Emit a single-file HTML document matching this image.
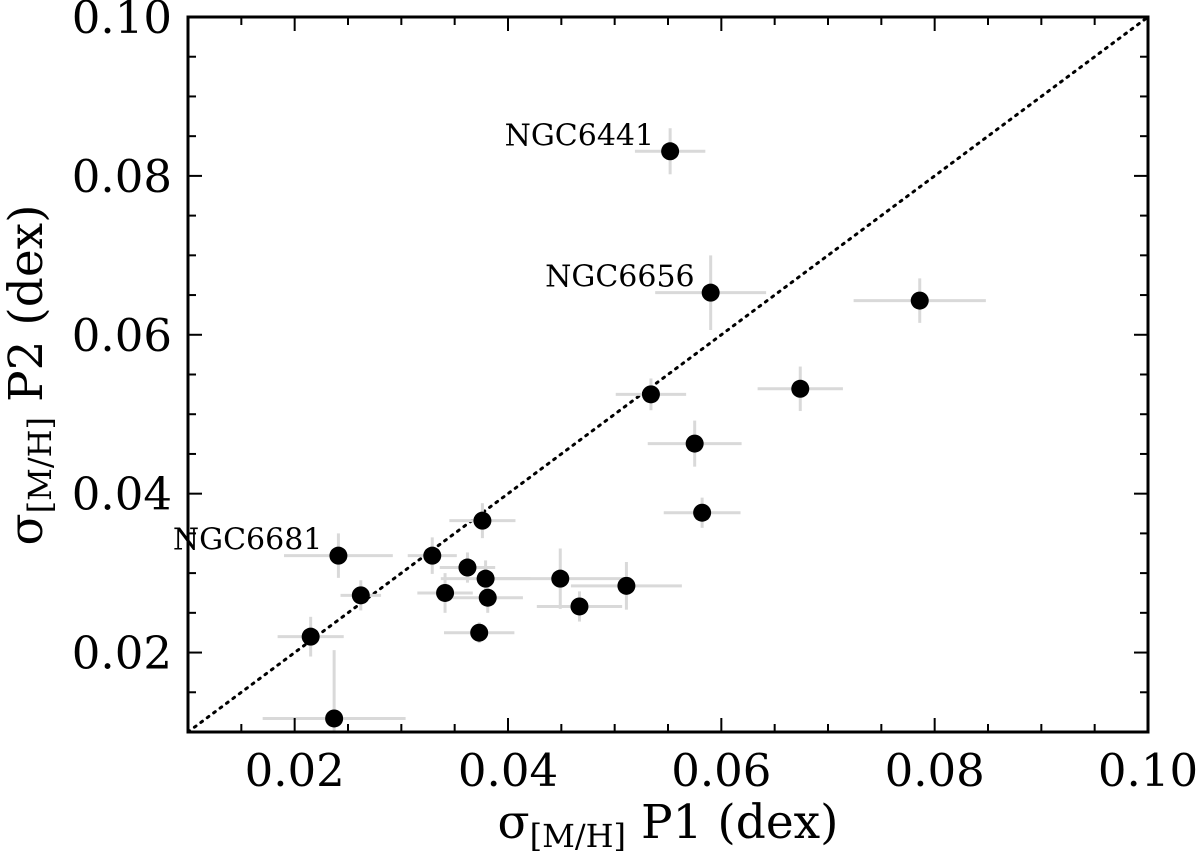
<!DOCTYPE html>
<html><head><meta charset="utf-8">
<style>
html,body{margin:0;padding:0;background:#fff;width:1200px;height:859px;overflow:hidden}
svg text{font-family:"DejaVu Serif","Liberation Serif",serif;fill:#000}
</style></head>
<body>
<svg id="chart" width="1200" height="859" xmlns="http://www.w3.org/2000/svg"></svg>
<script>
const names = ["NGC6441","NGC6656","","","","","","","NGC6681","","","","","","","","","","","",""];
const xVals = [0.0552,0.0590,0.0786,0.0534,0.0674,0.0575,0.0582,0.0376,0.0241,0.0329,0.0362,0.0379,0.0449,0.0511,0.0341,0.0381,0.0262,0.0467,0.0373,0.0215,0.0237];
const yVals = [0.0831,0.0653,0.0643,0.0525,0.0532,0.0463,0.0376,0.0366,0.0322,0.0322,0.0307,0.0293,0.0293,0.0284,0.0275,0.0269,0.0272,0.0258,0.0225,0.0220,0.0117];
const xErr = [0.0033,0.0052,0.0062,0.0033,0.0040,0.0044,0.0036,0.0031,0.0051,0.0023,0.0026,0.0042,0.0066,0.0052,0.0026,0.0033,0.0019,0.0040,0.0033,0.0031,0.0067];
const yErr = [0.0029,0.0047,0.0028,0.0020,0.0028,0.0029,0.0019,0.0022,0.0028,0.0023,0.0019,0.0023,0.0038,0.0030,0.0025,0.0019,0.0019,0.0019,0.0013,0.0025,0.0086];
const xTicks = [0.02,0.04,0.06,0.08,0.10];
const yTicks = [0.02,0.04,0.06,0.08,0.10];
const xTickLabels = ["0.02","0.04","0.06","0.08","0.10"];
const yTickLabels = ["0.02","0.04","0.06","0.08","0.10"];

const L=188,R=1148,T=17,B=732,MIN=0.01,MAX=0.10;
const sx=v=>L+(v-MIN)/(MAX-MIN)*(R-L);
const sy=v=>B-(v-MIN)/(MAX-MIN)*(B-T);
const svg=document.getElementById('chart');
const NS="http://www.w3.org/2000/svg";
function mk(tag,attrs,parent){const e=document.createElementNS(NS,tag);for(const k in attrs)e.setAttribute(k,attrs[k]);(parent||svg).appendChild(e);return e;}

const clip=mk('clipPath',{id:'pc'});mk('rect',{x:L,y:T,width:R-L,height:B-T},clip);
const plot=mk('g',{'clip-path':'url(#pc)'});



const diag=mk('line',{x1:sx(MIN),y1:sy(MIN),x2:sx(MAX),y2:sy(MAX),stroke:'#000','stroke-width':3,'stroke-dasharray':'2,6','stroke-linecap':'round'},plot);



for(let i=0;i<xVals.length;i++){
  const g=mk('g',{},plot);
  
  
  mk('line',{x1:sx(xVals[i]-xErr[i]),x2:sx(xVals[i]+xErr[i]),y1:sy(yVals[i]),y2:sy(yVals[i]),stroke:'#d9d9d9','stroke-width':3},g);
  mk('line',{x1:sx(xVals[i]),x2:sx(xVals[i]),y1:sy(yVals[i]-yErr[i]),y2:sy(yVals[i]+yErr[i]),stroke:'#d9d9d9','stroke-width':3},g);
}
for(let i=0;i<xVals.length;i++){
  const c=mk('circle',{cx:sx(xVals[i]),cy:sy(yVals[i]),r:9,fill:'#000'},plot);
  
  
}
for(let i=0;i<names.length;i++){
  if(!names[i])continue;
  const t=mk('text',{x:sx(xVals[i])-16,y:sy(yVals[i])-6,'font-size':30,'text-anchor':'end'});
  t.textContent=names[i];
  
  
}

const tg=mk('g',{stroke:'#000','stroke-width':2});


for(let k=0;k<=18;k++){
  const v=MIN+k*0.005;const major=Math.abs((v/0.02)-Math.round(v/0.02))<1e-6;
  const len=major?14:8;const x=sx(v),y=sy(v);
  mk('line',{x1:x,x2:x,y1:B,y2:B-len},tg);
  mk('line',{x1:x,x2:x,y1:T,y2:T+len},tg);
  mk('line',{x1:L,x2:L+len,y1:y,y2:y},tg);
  mk('line',{x1:R,x2:R-len,y1:y,y2:y},tg);
}
const frame=mk('rect',{x:L,y:T,width:R-L,height:B-T,fill:'none',stroke:'#000','stroke-width':3});



xTicks.forEach((v,i)=>{
  const t=mk('text',{x:sx(v),y:786,'font-size':45,'text-anchor':'middle'});
  t.textContent=xTickLabels[i];
  
  
});
yTicks.forEach((v,i)=>{
  const t=mk('text',{x:172,y:sy(v)+16,'font-size':45,'text-anchor':'end'});
  t.textContent=yTickLabels[i];
  
  
});
</script>
<svg width="1200" height="859" style="position:absolute;left:0;top:0" xmlns="http://www.w3.org/2000/svg">
<text x="668" y="838" font-size="47" text-anchor="middle">σ<tspan font-size="32" dy="9">[M/H]</tspan><tspan dy="-9"> P1 (dex)</tspan></text>
<text transform="translate(42,375) rotate(-90)" font-size="47" text-anchor="middle">σ<tspan font-size="32" dy="9">[M/H]</tspan><tspan dy="-9"> P2 (dex)</tspan></text>
</svg>
</body></html>
